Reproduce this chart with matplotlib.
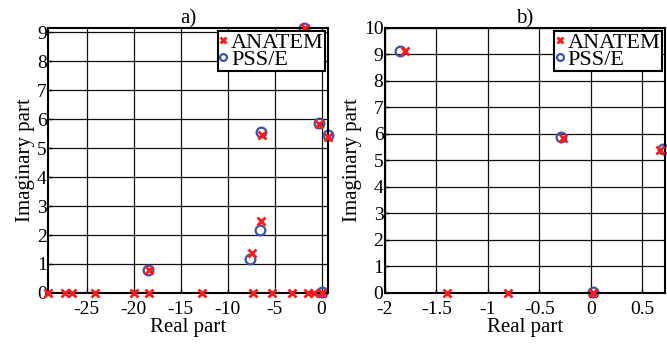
import matplotlib
matplotlib.use("Agg")
import matplotlib.pyplot as plt

plt.rcParams['font.family'] = ['Liberation Serif', 'DejaVu Serif']

# ANATEM eigenvalues (real, imag)
anatem_re = [-29.1, -27.3, -26.6, -24.1, -20.0, -18.4, -12.7, -7.3, -3.1, -1.4, -0.8, 0.02,
             -18.4, -7.4, -6.4, -6.3, -1.8, -0.27, 0.67, 0.02]
anatem_im = [0, 0, 0, 0, 0, 0, 0, 0, 0, 0, 0, 0,
             0.78, 1.39, 2.47, 5.47, 9.15, 5.85, 5.38, 0.0]

# PSS/E eigenvalues (real, imag)
psse_re = [-18.5, -7.6, -6.6, -6.4, -1.85, -0.29, 0.70, 0.02]
psse_im = [0.78, 1.16, 2.18, 5.55, 9.15, 5.87, 5.45, 0.05]

fig = plt.figure(figsize=(6.67, 3.5), dpi=100)
ax1 = fig.add_axes([0.072, 0.163, 0.42, 0.757])
ax2 = fig.add_axes([0.577, 0.163, 0.42, 0.757])

red = '#ff1a1a'
blue = '#3a52b0'

for ax in (ax1, ax2):
    ax.plot(anatem_re, anatem_im, 'x', color=red, ms=6, mew=2, label='ANATEM', zorder=3, clip_on=False)
    ax.plot(psse_re, psse_im, 'o', color=blue, mfc='none', ms=7, mew=1.6, label='PSS/E', zorder=2, clip_on=False)
    ax.grid(True, color='#111111', lw=0.9)
    ax.set_xlabel('Real part', fontsize=15, labelpad=0)
    ax.set_ylabel('Imaginary part', fontsize=15, labelpad=1)
    ax.tick_params(direction='in', labelsize=14, length=3, width=1)
    ax.tick_params(axis='y', pad=1)
    ax.tick_params(axis='x', pad=6)
    for s in ax.spines.values():
        s.set_linewidth(1.5)
    leg = ax.legend(loc='upper right', fontsize=16, handlelength=0.4, handletextpad=0.15,
                    borderpad=0.05, labelspacing=-0.15, borderaxespad=0.15, fancybox=False,
                    framealpha=1, markerscale=0.7)
    leg.get_frame().set_edgecolor('black')
    leg.get_frame().set_linewidth(1.5)

ax1.set_xlim(min(anatem_re), max(psse_re))
ax1.set_ylim(0, max(psse_im))
ax1.set_xticks([-25, -20, -15, -10, -5, 0])
ax1.set_xticklabels(['-25', '-20', '-15', '-10', '-5', '0'])
ax1.set_yticks(range(0, 10))
ax1.set_title('a)', fontsize=15, pad=2)

ax2.set_xlim(-2, 0.72)
ax2.set_ylim(0, 10)
ax2.set_xticks([-2, -1.5, -1, -0.5, 0, 0.5])
ax2.set_xticklabels(['-2', '-1.5', '-1', '-0.5', '0', '0.5'])
ax2.set_yticks(range(0, 11))
ax2.set_title('b)', fontsize=15, pad=2)

fig.savefig('out.png', dpi=100)
